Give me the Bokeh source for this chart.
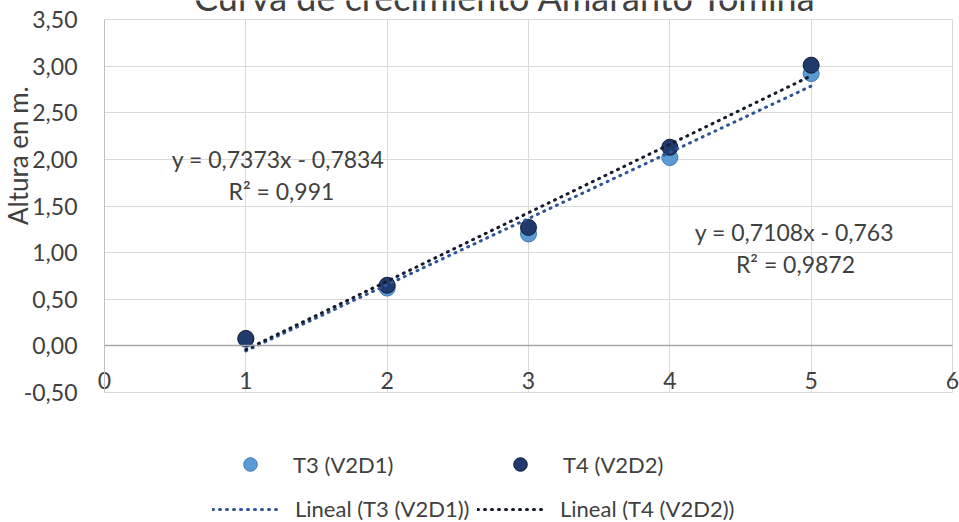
import numpy as np
from bokeh.plotting import figure
from bokeh.models import Range1d, FixedTicker, Label, Legend, LegendItem, BoxAnnotation
from bokeh.embed import file_html
from bokeh.resources import INLINE

# ---------------- data ----------------
title_text = "Curva de crecimiento Amaranto Tomina"
y_axis_title = "Altura en m."
dias = [1, 2, 3, 4, 5]
t3_name = "T3 (V2D1)"
t4_name = "T4 (V2D2)"
t3_trend_name = "Lineal (T3 (V2D1))"
t4_trend_name = "Lineal (T4 (V2D2))"
t3_values = [0.07, 0.62, 1.20, 2.02, 2.92]
t4_values = [0.08, 0.65, 1.27, 2.13, 3.01]
x_ticks = [0, 1, 2, 3, 4, 5, 6]
x_tick_labels = ["0", "1", "2", "3", "4", "5", "6"]
y_ticks = [-0.5, 0.0, 0.5, 1.0, 1.5, 2.0, 2.5, 3.0, 3.5]
y_tick_labels = ["-0,50", "0,00", "0,50", "1,00", "1,50", "2,00", "2,50", "3,00", "3,50"]
eq_t4 = ["y = 0,7373x - 0,7834", "R\u00b2 = 0,991"]
eq_t3 = ["y = 0,7108x - 0,763", "R\u00b2 = 0,9872"]

FONT = "Lato"
TXT = "#404040"
T3_FILL, T3_EDGE = "#5B9BD5", "#3F78B0"
T4_FILL, T4_EDGE = "#1F3A6B", "#0E1C3A"
T3_TREND = "#2F5597"
T4_TREND = "#151B2E"

W, H = 959, 522
PLOT_L, PLOT_R, PLOT_T, PLOT_B = 104, 952, 19, 392   # plot-area pixels
X0, X1 = x_ticks[0], x_ticks[-1]
Y0, Y1 = y_ticks[0], y_ticks[-1]
sx = (PLOT_R - PLOT_L) / (X1 - X0)
sy = (PLOT_B - PLOT_T) / (Y1 - Y0)
x_range = Range1d(X0 - PLOT_L / sx, X1 + (W - PLOT_R) / sx)
y_range = Range1d(Y0 - (H - PLOT_B) / sy, Y1 + PLOT_T / sy)

p = figure(width=W, height=H, x_range=x_range, y_range=y_range,
           output_backend="svg", toolbar_location=None,
           min_border=0)
p.outline_line_color = None

# axes drawn inside the frame, crossing at 0
p.xaxis.ticker = FixedTicker(ticks=x_ticks)
p.xaxis.major_label_overrides = {t: l for t, l in zip(x_ticks, x_tick_labels)}
p.xaxis.fixed_location = 0
p.xaxis.bounds = (X0, X1)
p.xaxis.axis_line_color = "#A6A6A6"
p.xaxis.axis_line_width = 1.3
p.xaxis.major_tick_line_color = None
p.xaxis.minor_tick_line_color = None
p.xaxis.major_label_standoff = 20
p.xaxis.major_label_text_font = FONT
p.xaxis.major_label_text_font_size = "23px"
p.xaxis.major_label_text_color = TXT

p.yaxis.ticker = FixedTicker(ticks=y_ticks)
p.yaxis.major_label_overrides = {t: l for t, l in zip(y_ticks, y_tick_labels)}
p.yaxis.fixed_location = X0
p.yaxis.bounds = (Y0, Y1)
p.yaxis.axis_line_color = "#BFBFBF"
p.yaxis.major_tick_line_color = None
p.yaxis.minor_tick_line_color = None
p.yaxis.major_label_standoff = 21
p.yaxis.major_label_text_font = FONT
p.yaxis.major_label_text_font_size = "23px"
p.yaxis.major_label_text_color = TXT

p.xgrid.grid_line_color = "#D9D9D9"
p.ygrid.grid_line_color = "#D9D9D9"
p.xgrid.bounds = (X0 - 0.01, X1 + 0.01)
p.ygrid.bounds = (Y0 - 0.01, Y1 + 0.01)
if "cross_bounds" in p.xgrid[0].properties():
    p.xgrid.cross_bounds = (Y0, Y1)
    p.ygrid.cross_bounds = (X0, X1)
else:
    e = 0.012
    for kw in (dict(right=X0 - e), dict(left=X1 + e), dict(bottom=Y1 + e), dict(top=Y0 - e)):
        p.add_layout(BoxAnnotation(level="underlay", fill_color="white", fill_alpha=1,
                                   line_color=None, **kw))

# series
r3 = p.scatter(dias, t3_values, size=16, marker="circle",
               fill_color=T3_FILL, line_color=T3_EDGE, line_width=1)
r4 = p.scatter(dias, t4_values, size=16, marker="circle",
               fill_color=T4_FILL, line_color=T4_EDGE, line_width=1)

# linear trendlines from the data
xs_fit = [min(dias), max(dias)]
k3, b3 = np.polyfit(dias, t3_values, 1)
k4, b4 = np.polyfit(dias, t4_values, 1)
l3 = p.line(xs_fit, [k3 * x + b3 for x in xs_fit], line_color=T3_TREND,
            line_width=3, line_dash="1 6", line_cap="round")
l4 = p.line(xs_fit, [k4 * x + b4 for x in xs_fit], line_color=T4_TREND,
            line_width=3, line_dash="1 6", line_cap="round")

# texts
def lab(x, y, text, size, **kw):
    p.add_layout(Label(x=x, y=y, text=text, text_font=FONT, text_font_size=size,
                       text_color=TXT, **kw))

lab(2.837, 3.741, title_text, "36px", text_align="center", text_baseline="middle")
lab(-0.61, 2.04, y_axis_title, "26px", text_align="center", text_baseline="middle",
    angle=np.pi / 2)
lab(1.228, 2.009, eq_t4[0], "23px", text_align="center", text_baseline="middle")
lab(1.252, 1.666, eq_t4[1], "23px", text_align="center", text_baseline="middle")
lab(4.882, 1.216, eq_t3[0], "23px", text_align="center", text_baseline="middle")
lab(4.889, 0.883, eq_t3[1], "23px", text_align="center", text_baseline="middle")

# legends (frame spans the whole canvas, so offsets are from the canvas bottom-left)
common = dict(orientation="horizontal", spacing=0, padding=0, margin=0,
              border_line_color=None, background_fill_alpha=0,
              label_text_font=FONT, label_text_font_size="22px",
              label_text_color=TXT, glyph_width=68)
leg1 = Legend(items=[LegendItem(label=t3_name, renderers=[r3]),
                     LegendItem(label=t4_name, renderers=[r4])],
              location=(216, 41), glyph_height=34, label_height=34,
              label_standoff=9, label_width=193, **common)
leg2 = Legend(items=[LegendItem(label=t3_trend_name, renderers=[l3]),
                     LegendItem(label=t4_trend_name, renderers=[l4])],
              location=(212, 0), glyph_height=20, label_height=20,
              label_standoff=15, label_width=182, **common)
p.add_layout(leg1)
p.add_layout(leg2)

open("out.html", "w").write(file_html(p, INLINE))
